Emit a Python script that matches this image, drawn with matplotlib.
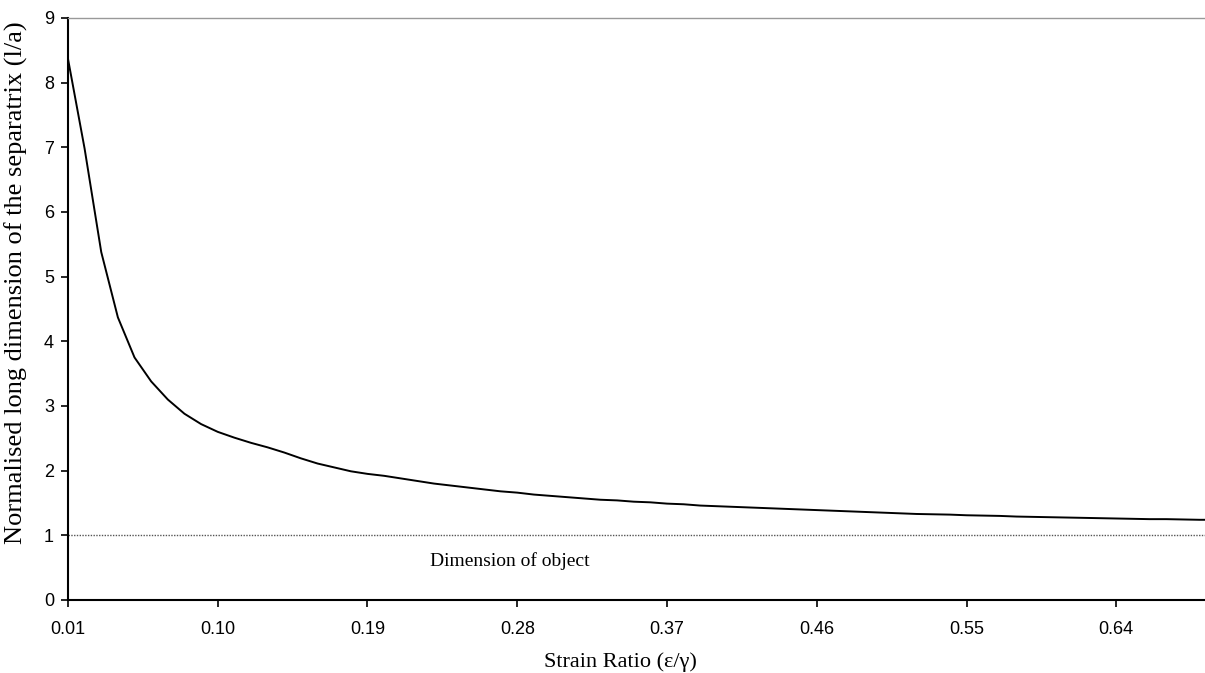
import numpy as np
import matplotlib
matplotlib.use("Agg")
import matplotlib.pyplot as plt

# Strain ratio (epsilon/gamma) sampled every 0.01
strain_ratio = np.round(np.arange(0.01, 0.705, 0.01), 2)

# Normalised long dimension of the separatrix (l/a)
separatrix_length = [
    8.37, 6.98, 5.38, 4.37, 3.75, 3.38, 3.10, 2.88, 2.72, 2.60,
    2.51, 2.43, 2.36, 2.28, 2.19, 2.11, 2.05, 1.99, 1.95, 1.92,
    1.88, 1.84, 1.80, 1.77, 1.74, 1.71, 1.68, 1.66, 1.63, 1.61,
    1.59, 1.57, 1.55, 1.54, 1.52, 1.51, 1.49, 1.48, 1.46, 1.45,
    1.44, 1.43, 1.42, 1.41, 1.40, 1.39, 1.38, 1.37, 1.36, 1.35,
    1.34, 1.33, 1.325, 1.32, 1.31, 1.305, 1.30, 1.29, 1.285, 1.28,
    1.275, 1.27, 1.265, 1.26, 1.255, 1.25, 1.25, 1.245, 1.24, 1.24,
]

object_dimension = 1.0
x_ticks = [0.01, 0.10, 0.19, 0.28, 0.37, 0.46, 0.55, 0.64]
x_tick_labels = ["0.01", "0.10", "0.19", "0.28", "0.37", "0.46", "0.55", "0.64"]
y_ticks = list(range(0, 10))

fig = plt.figure(figsize=(12.05, 6.73), dpi=100)
ax = fig.add_axes([0.0564, 0.1085, 0.9436, 0.8648])

ax.plot(strain_ratio, separatrix_length, color="black", lw=1.4)
ax.axhline(object_dimension, color="#555555", lw=1.0, ls=(0, (1, 1)))
ax.text(0.2276, 0.60, "Dimension of object", family="Liberation Serif",
        fontsize=14, va="center", ha="left")

ax.set_xlim(0.01, 0.6933)
ax.set_ylim(0, 9)

ax.set_xticks(x_ticks)
ax.set_xticklabels(x_tick_labels, family="Liberation Sans", fontsize=13)
ax.set_yticks(y_ticks)
ax.set_yticklabels([str(v) for v in y_ticks], family="Liberation Sans", fontsize=13)
ax.tick_params(axis="x", direction="out", length=5, width=1.2, pad=10)
ax.tick_params(axis="y", direction="out", length=5, width=1.2, pad=5)

ax.spines["right"].set_visible(False)
ax.spines["top"].set_color("#999999")
ax.spines["top"].set_linewidth(1.0)
ax.spines["left"].set_linewidth(1.5)
ax.spines["bottom"].set_linewidth(1.5)

ax.set_xlabel("Strain Ratio (ε/γ)", family="Liberation Serif", fontsize=16)
ax.set_ylabel("Normalised long dimension of the separatrix (l/a)",
              family="Liberation Serif", fontsize=19)
ax.xaxis.set_label_coords(0.486, -0.0893)
ax.yaxis.set_label_coords(-0.0352, 0.545)

fig.savefig("out.png", dpi=100)
